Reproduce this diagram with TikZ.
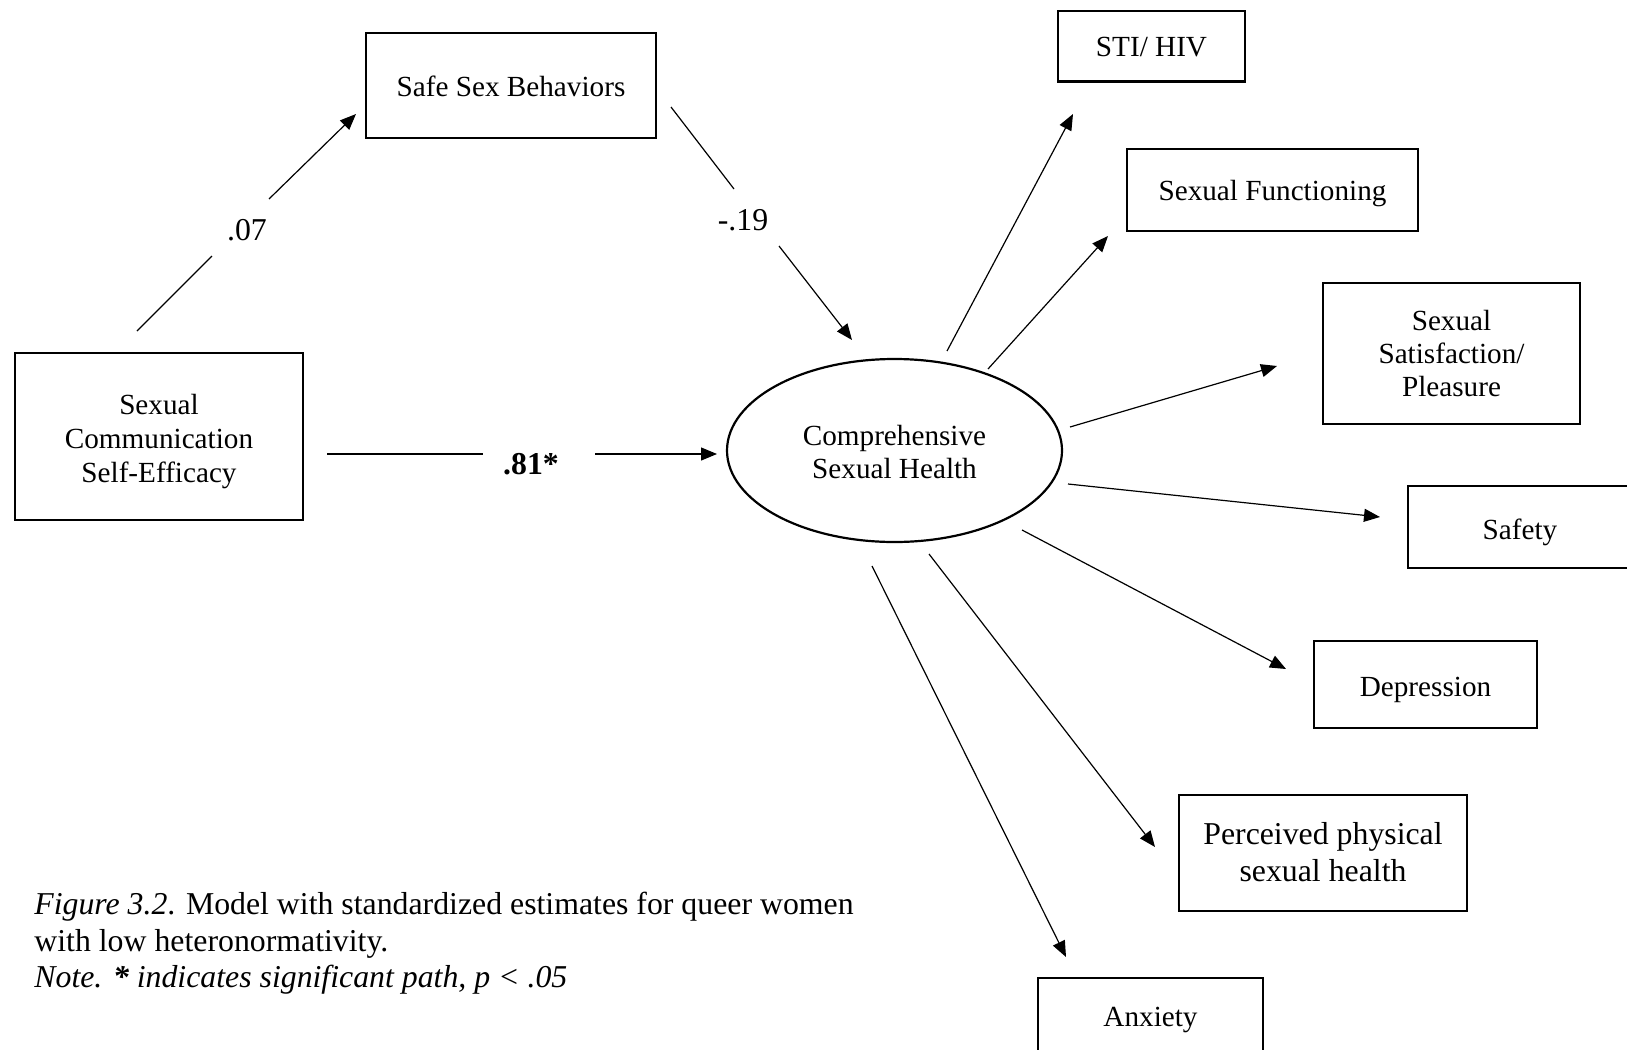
\documentclass[tikz,border=0pt]{standalone}
\usepackage{fontspec}
\setmainfont{Liberation Serif}
\usetikzlibrary{arrows.meta,shapes.geometric}
\newcommand{\mlines}[1]{\begin{tabular}[t]{@{}c@{}}#1\end{tabular}}
\begin{document}
\begin{tikzpicture}[x=0.5pt,y=-0.5pt,
  txt/.style={font=\fontsize{14.6pt}{16.6pt}\selectfont},
  bigtxt/.style={font=\fontsize{15.9pt}{17.5pt}\selectfont},
  box/.style={txt, draw, line width=1.2pt, rectangle, inner sep=0pt},
  latent/.style={txt, draw, line width=1.1pt, ellipse, inner sep=0pt},
  seg/.style={line width=0.6pt},
  arr/.style={line width=0.6pt, -{Triangle[length=8pt,width=6.5pt]}},
  est/.style={bigtxt, inner sep=0pt},
  captext/.style={bigtxt, inner sep=0pt, anchor=base west}
]
\useasboundingbox (0,0) rectangle (1627,1049);
\clip (0,0) rectangle (1627,1049);

% nodes (text height/depth place the first baseline as in the reference)
\node[box, font=\fontsize{14.6pt}{16.9pt}\selectfont, minimum width=144.25pt, minimum height=83.5pt, text height=4.1pt, text depth=25.9pt]
  (scse) at (159,436.5) {\mlines{Sexual\\Communication\\Self-Efficacy}};
\node[box, minimum width=145pt, minimum height=52.5pt, text height=20.4pt, text depth=9.6pt]
  (ssb) at (511,85.5) {Safe Sex Behaviors};
\node[latent, minimum width=167.5pt, minimum height=91.5pt, text height=12.35pt, text depth=17.65pt]
  (csh) at (894.5,450.5) {\mlines{Comprehensive\\Sexual Health}};
\node[box, minimum width=93.5pt, minimum height=35.3pt, text height=20.3pt, text depth=9.7pt]
  (sti) at (1151.5,46) {STI/ HIV};
\node[box, minimum width=145.5pt, minimum height=41pt, text height=20pt, text depth=10pt]
  (sf) at (1272.5,190) {Sexual Functioning};
\node[box, minimum width=128.5pt, minimum height=70.5pt, text height=3.5pt, text depth=26.5pt]
  (ssp) at (1451.5,353.5) {\mlines{Sexual\\Satisfaction/\\Pleasure}};
\node[box, minimum width=112pt, minimum height=41pt, text height=21pt, text depth=9pt]
  (saf) at (1520,527) {Safety};
\node[box, minimum width=111.5pt, minimum height=43.5pt, text height=20.75pt, text depth=9.25pt]
  (dep) at (1425.5,684.5) {Depression};
\node[box, font=\fontsize{15.9pt}{18.1pt}\selectfont, minimum width=144pt, minimum height=58pt, text height=10.9pt, text depth=19.1pt]
  (pps) at (1323,853) {\mlines{Perceived physical\\sexual health}};
\node[box, minimum width=112.5pt, minimum height=39pt, text height=19.8pt, text depth=10.2pt]
  (anx) at (1150.5,1017) {Anxiety};

% connector end points
\coordinate (a0) at (137,331);  \coordinate (a1) at (212,256);
\coordinate (a2) at (269,199);  \coordinate (a3) at (356,114);
\coordinate (b0) at (671,107);  \coordinate (b1) at (734,189);
\coordinate (b2) at (779,246);  \coordinate (b3) at (852,340);
\coordinate (c0) at (327,454);  \coordinate (c1) at (483,454);
\coordinate (c2) at (595,454);  \coordinate (c3) at (717,454);

\coordinate (d0) at (947,351);  \coordinate (d1) at (1073,114);
\coordinate (e0) at (988,369);  \coordinate (e1) at (1108,236);
\coordinate (f0) at (1070,427); \coordinate (f1) at (1277,366);
\coordinate (g0) at (1068,484); \coordinate (g1) at (1380,517);
\coordinate (h0) at (1022,530); \coordinate (h1) at (1286,669);
\coordinate (i0) at (929,554);  \coordinate (i1) at (1155,847);
\coordinate (j0) at (872,566);  \coordinate (j1) at (1066,957);

% structural paths with estimates
\draw[seg] (a0) -- (a1);
\draw[arr] (a2) -- (a3);
\node[est] (l07) at (247,230) {.07};

\draw[seg] (b0) -- (b1);
\draw[arr] (b2) -- (b3);
\node[est] (l19) at (743,220) {-.19};

\draw[seg] (c0) -- (c1);
\draw[arr] (c2) -- (c3);
\node[est] (l81) at (531,464) {\textbf{.81*}};

% indicators
\draw[arr] (d0) -- (d1);
\draw[arr] (e0) -- (e1);
\draw[arr] (f0) -- (f1);
\draw[arr] (g0) -- (g1);
\draw[arr] (h0) -- (h1);
\draw[arr] (i0) -- (i1);
\draw[arr] (j0) -- (j1);

% caption
\node[captext] (cap1) at (34,914) {\textit{Figure 3.2}. Model with standardized estimates for queer women};
\node[captext] (cap2) at (34,951) {with low heteronormativity.};
\node[captext] (cap3) at (34,987) {\textit{Note. \textbf{*} indicates significant path, p < .05}};
\end{tikzpicture}
\end{document}
